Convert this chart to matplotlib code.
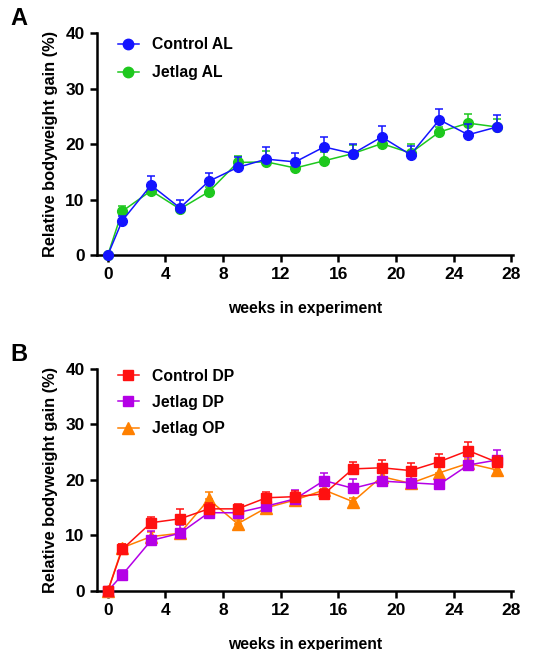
import numpy as np
import matplotlib
matplotlib.use('Agg')
import matplotlib.pyplot as plt
from matplotlib.lines import Line2D

plt.rcParams['font.family'] = ['Liberation Sans', 'DejaVu Sans']
plt.rcParams['font.weight'] = 'bold'

# Данные
weeks = [0, 1, 3, 5, 7, 9, 11, 13, 15, 17, 19, 21, 23, 25, 27]

control_al = [0, 6.2, 12.6, 8.5, 13.3, 15.8, 17.3, 16.8, 19.5, 18.3, 21.3, 18.1, 24.4, 21.7, 23.1]
control_al_sem = [0, 0.8, 1.6, 1.4, 1.5, 1.9, 2.1, 1.6, 1.8, 1.8, 2.0, 1.5, 2.0, 1.9, 2.1]
jetlag_al = [0, 7.9, 11.6, 8.3, 11.4, 16.7, 16.8, 15.7, 17.0, 18.3, 20.1, 18.4, 22.2, 23.8, 23.1]
jetlag_al_sem = [0, 0.9, 0.6, 0.6, 0.8, 1.2, 1.9, 0.7, 1.5, 1.6, 0.8, 1.7, 0.9, 1.7, 1.5]

control_dp = [0, 7.5, 12.3, 13.0, 14.8, 14.8, 16.8, 17.0, 17.5, 22.0, 22.2, 21.7, 23.3, 25.3, 23.2]
control_dp_sem = [0, 1.0, 1.1, 1.8, 1.0, 0.9, 1.0, 1.1, 0.8, 1.3, 1.4, 1.4, 1.3, 1.5, 1.2]
jetlag_dp = [0, 2.9, 9.1, 10.4, 14.1, 14.1, 15.3, 16.6, 19.9, 18.5, 19.8, 19.5, 19.2, 22.7, 23.6]
jetlag_dp_sem = [0, 0.9, 1.7, 1.5, 0.8, 0.8, 0.8, 1.6, 1.3, 1.7, 2.0, 1.4, 0.8, 1.5, 1.8]
jetlag_op = [0, 7.8, 9.8, 10.4, 16.5, 12.1, 15.0, 16.4, 18.2, 16.1, 20.6, 19.4, 21.3, 23.0, 21.8]
jetlag_op_sem = [0, 0.6, 0.8, 0.8, 1.4, 0.7, 0.6, 0.6, 1.2, 0.7, 0.8, 0.7, 1.3, 0.8, 0.8]

fig = plt.figure(figsize=(5.56, 6.5), dpi=100)
ax_a = fig.add_axes([0.1745, 0.6077, 0.748, 0.341])
ax_b = fig.add_axes([0.1745, 0.0908, 0.748, 0.3415])


def draw_series(ax, y, sem, color, marker, label, ms, z=3):
    up = np.array(sem)
    lo = np.zeros_like(up)
    ax.errorbar(weeks, y, yerr=[lo, up], color=color, marker=marker, markersize=ms,
                linewidth=1.1, elinewidth=1.1, capsize=3.2, capthick=1.1,
                clip_on=False, zorder=z)
    return Line2D([], [], color=color, marker=marker, markersize=ms + 0.5,
                  linewidth=1.1, label=label)


def style_axes(ax):
    ax.set_xlim(-0.75, 28.1)
    ax.set_ylim(0, 40)
    ax.set_xticks(range(0, 29, 4))
    ax.set_yticks(range(0, 41, 10))
    for side in ['top', 'right']:
        ax.spines[side].set_visible(False)
    for side in ['left', 'bottom']:
        ax.spines[side].set_linewidth(1.8)
    ax.tick_params(axis='both', width=1.8, length=5, labelsize=12.5, pad=4)
    for lbl in ax.get_xticklabels() + ax.get_yticklabels():
        lbl.set_fontweight('bold')
    ax.set_xlabel('weeks in experiment', fontsize=11.3, fontweight='bold', labelpad=13)
    ax.set_ylabel('Relative bodyweight gain (%)', fontsize=11.8, fontweight='bold', labelpad=5)


h1 = draw_series(ax_a, jetlag_al, jetlag_al_sem, '#1ec81e', 'o', 'Jetlag AL', 7, z=2)
h2 = draw_series(ax_a, control_al, control_al_sem, '#1414ff', 'o', 'Control AL', 7, z=3)
style_axes(ax_a)
ax_a.legend([h2, h1], ['Control AL', 'Jetlag AL'], loc='upper left',
            bbox_to_anchor=(0.035, 1.01), frameon=False, fontsize=11.3,
            handlelength=1.35, handletextpad=0.8, labelspacing=0.82, borderaxespad=0)

g1 = draw_series(ax_b, jetlag_op, jetlag_op_sem, '#ff8000', '^', 'Jetlag OP', 8, z=2)
g2 = draw_series(ax_b, jetlag_dp, jetlag_dp_sem, '#b400e6', 's', 'Jetlag DP', 6.5, z=3)
g3 = draw_series(ax_b, control_dp, control_dp_sem, '#ff1010', 's', 'Control DP', 6.5, z=4)
style_axes(ax_b)
ax_b.legend([g3, g2, g1], ['Control DP', 'Jetlag DP', 'Jetlag OP'], loc='upper left',
            bbox_to_anchor=(0.035, 1.03), frameon=False, fontsize=11.3,
            handlelength=1.35, handletextpad=0.8, labelspacing=0.72, borderaxespad=0)

fig.text(0.018, 0.972, 'A', fontsize=17, fontweight='bold', va='center')
fig.text(0.018, 0.455, 'B', fontsize=17, fontweight='bold', va='center')

fig.savefig('out.png', dpi=100)
